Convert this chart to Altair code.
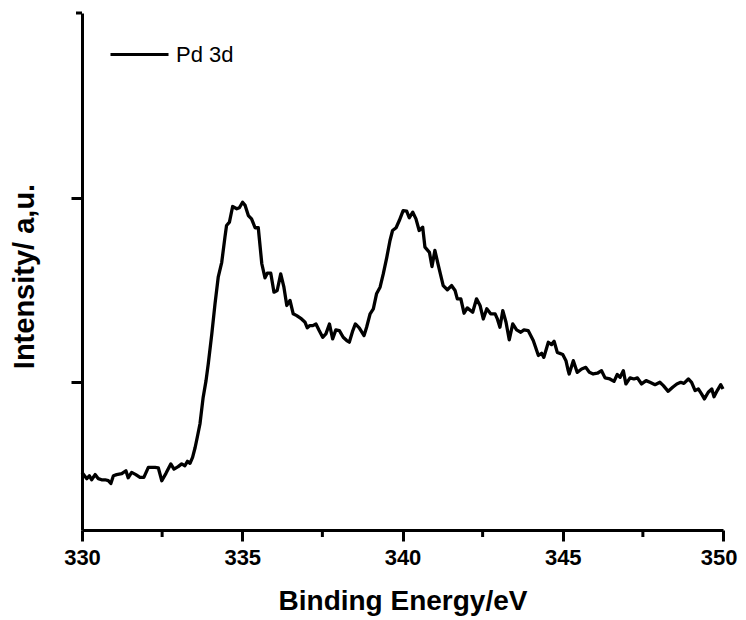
import altair as alt
import pandas as pd

FONT = "Liberation Sans"

energy = [330.00,330.15,330.23,330.30,330.41,330.51,330.61,330.72,330.82,330.90,
          330.98,331.08,331.24,331.37,331.44,331.55,331.68,331.81,331.93,332.07,
          332.28,332.38,332.49,332.62,332.77,332.87,333.00,333.11,333.21,333.29,
          333.37,333.45,333.53,333.60,333.68,333.78,333.87,333.94,334.05,334.15,
          334.25,334.36,334.46,334.51,334.60,334.70,334.83,334.91,335.01,335.09,
          335.19,335.29,335.40,335.50,335.61,335.71,335.78,335.89,335.99,336.09,
          336.20,336.30,336.39,336.49,336.59,336.70,336.85,336.96,337.03,337.11,
          337.20,337.30,337.40,337.51,337.61,337.72,337.82,337.92,338.03,338.15,
          338.26,338.34,338.45,338.53,338.65,338.80,338.88,338.99,339.09,339.19,
          339.30,339.40,339.51,339.61,339.69,339.80,339.90,340.02,340.13,340.21,
          340.32,340.42,340.52,340.63,340.70,340.84,340.92,341.01,341.12,341.27,
          341.40,341.53,341.64,341.71,341.82,341.92,342.02,342.19,342.31,342.42,
          342.52,342.63,342.75,342.89,342.96,343.04,343.13,343.23,343.33,343.44,
          343.56,343.69,343.79,343.92,344.08,344.24,344.34,344.41,344.55,344.65,
          344.73,344.83,345.00,345.10,345.17,345.20,345.33,345.45,345.59,345.72,
          345.83,345.95,346.08,346.21,346.32,346.47,346.60,346.70,346.79,346.89,
          346.97,347.10,347.22,347.33,347.46,347.60,347.72,347.88,348.03,348.14,
          348.29,348.43,348.56,348.68,348.78,348.92,349.02,349.13,349.23,349.33,
          349.42,349.54,349.65,349.72,349.82,349.93,350.00]

intensity = [1512,1478,1494,1472,1500,1478,1472,1472,1467,1452,
             1494,1500,1505,1521,1483,1512,1500,1485,1485,1539,
             1539,1537,1467,1507,1558,1530,1543,1558,1548,1572,
             1561,1593,1647,1705,1774,1918,2009,2100,2262,2425,
             2569,2650,2786,2849,2867,2952,2940,2945,2975,2958,
             2903,2885,2837,2837,2642,2566,2591,2591,2488,2497,
             2587,2515,2416,2443,2371,2361,2343,2325,2295,2307,
             2307,2316,2280,2244,2262,2316,2235,2284,2280,2244,
             2226,2217,2280,2316,2295,2253,2298,2371,2398,2479,
             2515,2587,2677,2768,2822,2837,2876,2930,2927,2891,
             2921,2885,2822,2840,2732,2704,2627,2714,2632,2524,
             2501,2524,2497,2452,2452,2374,2403,2379,2452,2416,
             2343,2398,2371,2371,2343,2298,2388,2325,2230,2316,
             2284,2271,2284,2280,2226,2145,2157,2135,2217,2204,
             2222,2162,2150,2117,2063,2045,2117,2054,2072,2081,
             2054,2045,2049,2063,2024,2018,2005,2042,2027,2063,
             1991,2024,2018,2024,1991,2009,2000,1987,2000,1982,
             1951,1973,1991,2000,1994,2018,2000,1955,1964,1937,
             1910,1946,1964,1922,1955,1987,1964]

series_name = "Pd 3d"
x_major = [330, 335, 340, 345, 350]
x_minor = [332.5, 337.5, 342.5, 347.5]
y_major = [2000, 3000]
y_top = [4000]
x_domain = [330, 350]
y_domain = [1200, 4000]

n = min(len(energy), len(intensity))
df = pd.DataFrame({"E": energy[:n], "I": intensity[:n], "series": [series_name] * n})
minor_df = pd.DataFrame({"E": x_minor})
top_df = pd.DataFrame({"I": y_top})

W, H = 641, 517

x_scale = alt.Scale(domain=x_domain, nice=False, zero=False)
y_scale = alt.Scale(domain=y_domain, nice=False, zero=False)

x_axis = alt.Axis(values=x_major, title="Binding Energy/eV", format="d",
                  ticks=True, tickSize=11, tickWidth=3, tickColor="black",
                  labelFlush=False, labelPadding=6,
                  labelAlign=alt.condition("datum.value == 350", alt.value("right"), alt.value("center")),
                  labelOffset=alt.condition("datum.value == 350", alt.value(14), alt.value(0)),
                  titleX=W / 2, titleY=79, titleBaseline="alphabetic",
                  titleAlign="center")
y_axis = alt.Axis(values=y_major, labels=False, title="Intensity/ a,u.",
                  ticks=True, tickSize=11, tickWidth=3, tickColor="black",
                  titleX=-49, titleY=263, titleBaseline="alphabetic",
                  titleAlign="center", titleAngle=-90)

line = alt.Chart(df).mark_line(strokeWidth=3.3, strokeJoin="round").encode(
    x=alt.X("E:Q", scale=x_scale, axis=x_axis, title="Binding Energy/eV"),
    y=alt.Y("I:Q", scale=y_scale, axis=y_axis, title="Intensity/ a,u."),
    color=alt.Color("series:N", scale=alt.Scale(range=["black"]),
                    legend=alt.Legend(title=None, orient="none", legendX=27, legendY=11,
                                      symbolType="stroke", symbolSize=3364,
                                      symbolStrokeWidth=3, symbolStrokeColor="black",
                                      labelFont=FONT, labelFontSize=22,
                                      labelColor="black", labelOffset=6, padding=0)),
)

minor = alt.Chart(minor_df).mark_rule(color="black", strokeWidth=3).encode(
    x=alt.X("E:Q", scale=x_scale, axis=x_axis, title="Binding Energy/eV"),
    y=alt.value(H),
    y2=alt.value(H + 7),
)

top_stub = alt.Chart(top_df).mark_rule(color="black", strokeWidth=3).encode(
    y=alt.Y("I:Q", scale=y_scale, axis=y_axis, title="Intensity/ a,u."),
    x=alt.value(-6),
    x2=alt.value(0),
)

chart = alt.layer(line, minor, top_stub).properties(
    width=W, height=H,
    autosize=alt.AutoSizeParams(type="none"),
    padding={"left": 74, "top": 5, "right": 15, "bottom": 90},
).configure_view(strokeWidth=0).configure_axis(
    domainColor="black", domainWidth=3, tickColor="black", tickWidth=3, tickSize=11,
    labelFont=FONT, labelFontSize=22, labelFontWeight="bold", labelColor="black",
    labelPadding=6, titleFont=FONT, titleFontSize=28, titleFontWeight="bold",
    titleColor="black", grid=False,
).configure_axisY(titleFontSize=29)

chart.save("out.html", embed_options={"renderer": "svg", "actions": False})
